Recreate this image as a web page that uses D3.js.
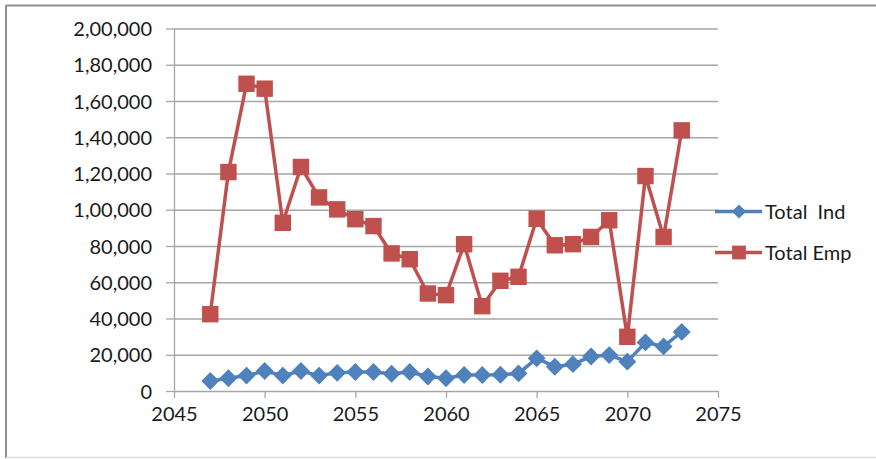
<!DOCTYPE html>
<html>
<head>
<meta charset="utf-8">
<script src="https://cdn.jsdelivr.net/npm/d3@7/dist/d3.min.js"></script>
<style>
  html, body { margin: 0; padding: 0; background: #fff; }
  svg { display: block; }
  text { font-family: Lato, "Open Sans", sans-serif; fill: #1a1a1a; }
</style>
</head>
<body>
<svg id="chart" width="876" height="459"></svg>
<script>
const years = [2047, 2048, 2049, 2050, 2051, 2052, 2053, 2054, 2055, 2056, 2057, 2058, 2059, 2060,
               2061, 2062, 2063, 2064, 2065, 2066, 2067, 2068, 2069, 2070, 2071, 2072, 2073];
const totalInd = [5500, 7000, 8500, 11000, 8500, 11000, 8500, 10000, 10500, 10500, 9500, 10500, 8000, 7000,
                  8800, 8800, 9000, 9700, 18000, 13400, 14800, 19000, 19800, 16200, 26800, 24600, 32600];
const totalEmp = [42400, 120800, 169500, 166800, 92800, 123600, 106800, 100200, 94800, 91000, 75900, 72700, 53800, 52900,
                  81000, 46800, 60800, 63000, 95000, 80400, 81000, 85000, 94200, 29900, 118600, 85000, 143800];
const seriesNames = ["Total  Ind", "Total Emp"];
const yTickValues = [0, 20000, 40000, 60000, 80000, 100000, 120000, 140000, 160000, 180000, 200000];
const yTickLabels = ["0", "20,000", "40,000", "60,000", "80,000", "1,00,000", "1,20,000", "1,40,000", "1,60,000", "1,80,000", "2,00,000"];
const xTickValues = [2045, 2050, 2055, 2060, 2065, 2070, 2075];
const xTickLabels = ["2045", "2050", "2055", "2060", "2065", "2070", "2075"];

const svg = d3.select("#chart");
const gridColor = "#a6a6a6";
const blue = "#4f81bd", red = "#c0504d";
const fontSize = "20px";

// outer frame
svg.append("line").attr("x1", 6).attr("x2", 876).attr("y1", 5.5).attr("y2", 5.5).attr("stroke", "#8f8f8f").attr("stroke-width", 2);
svg.append("line").attr("x1", 6).attr("x2", 6).attr("y1", 5).attr("y2", 458).attr("stroke", "#8f8f8f").attr("stroke-width", 2);
svg.append("line").attr("x1", 6).attr("x2", 876).attr("y1", 457.5).attr("y2", 457.5).attr("stroke", "#dcdcdc").attr("stroke-width", 1.5);

const x = d3.scaleLinear().domain([2045, 2075]).range([174, 718]);
const y = d3.scaleLinear().domain([0, 200000]).range([391, 28.5]);

// gridlines
const grid = svg.append("g").attr("transform", "translate(174,0)")
  .call(d3.axisLeft(y).tickValues(yTickValues.slice(1)).tickSize(-(718 - 174)).tickFormat(""));
grid.select(".domain").remove();
grid.selectAll("line").attr("stroke", gridColor).attr("stroke-width", 1.3);

// y axis
const yAxis = svg.append("g").attr("transform", "translate(174,0)")
  .call(d3.axisLeft(y).tickValues(yTickValues).tickSizeInner(8).tickSizeOuter(0).tickPadding(14)
        .tickFormat((d, i) => yTickLabels[i]));
yAxis.select(".domain").attr("stroke", gridColor).attr("stroke-width", 1.3);
yAxis.selectAll("line").attr("stroke", gridColor).attr("stroke-width", 1.3);
yAxis.selectAll("text").style("font-size", fontSize).style("font-family", "Lato").attr("fill", "#1a1a1a").attr("dy", "0.36em");

// x axis
const xAxis = svg.append("g").attr("transform", "translate(0,391)")
  .call(d3.axisBottom(x).tickValues(xTickValues).tickSizeInner(7).tickSizeOuter(0).tickPadding(9)
        .tickFormat((d, i) => xTickLabels[i]));
xAxis.select(".domain").attr("stroke", gridColor).attr("stroke-width", 1.3);
xAxis.selectAll("line").attr("stroke", gridColor).attr("stroke-width", 1.3);
xAxis.selectAll("text").style("font-size", fontSize).style("font-family", "Lato").attr("fill", "#1a1a1a");

const line = d3.line().x(d => x(d[0])).y(d => y(d[1]));
const indData = years.map((yr, i) => [yr, totalInd[i]]);
const empData = years.map((yr, i) => [yr, totalEmp[i]]);

const diamond = d3.symbol().type(d3.symbolSquare).size(160);
const square = d3.symbol().type(d3.symbolSquare).size(270);

// Total Ind (blue diamonds)
svg.append("path").datum(indData).attr("d", line).attr("fill", "none")
  .attr("stroke", blue).attr("stroke-width", 3.5).attr("stroke-linejoin", "round");
svg.append("g").selectAll("path").data(indData).join("path")
  .attr("d", diamond)
  .attr("transform", d => `translate(${x(d[0])},${y(d[1])}) rotate(45)`)
  .attr("fill", blue);

// Total Emp (red squares)
svg.append("path").datum(empData).attr("d", line).attr("fill", "none")
  .attr("stroke", red).attr("stroke-width", 3.5).attr("stroke-linejoin", "round");
svg.append("g").selectAll("path").data(empData).join("path")
  .attr("d", square)
  .attr("transform", d => `translate(${x(d[0])},${y(d[1])})`)
  .attr("fill", red);

// legend
const legend = svg.append("g");
const legendItems = [
  { name: seriesNames[0], color: blue, rot: 45, y: 211.5, symSize: 100 },
  { name: seriesNames[1], color: red, rot: 0, y: 252.5, symSize: 190 }
];
legendItems.forEach(it => {
  legend.append("line").attr("x1", 715).attr("x2", 762).attr("y1", it.y).attr("y2", it.y)
    .attr("stroke", it.color).attr("stroke-width", 3.5);
  legend.append("path")
    .attr("d", d3.symbol().type(d3.symbolSquare).size(it.symSize))
    .attr("transform", `translate(739,${it.y}) rotate(${it.rot})`)
    .attr("fill", it.color);
  legend.append("text").attr("x", 765).attr("y", it.y).attr("dy", "0.36em")
    .attr("xml:space", "preserve").style("white-space", "pre")
    .style("font-size", fontSize).text(it.name);
});
</script>
</body>
</html>
